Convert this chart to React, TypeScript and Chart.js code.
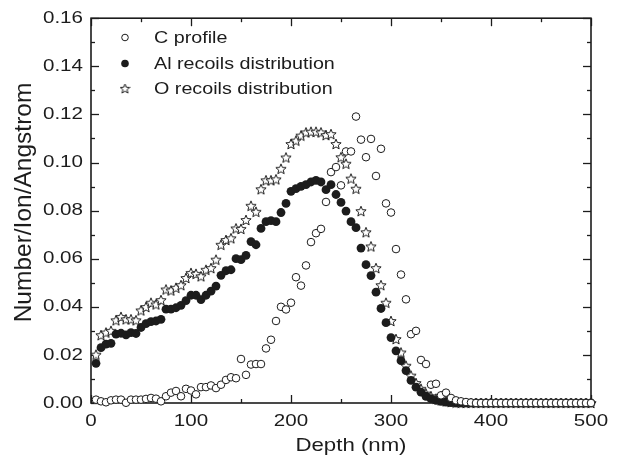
import React, { useEffect, useRef } from "react";
import { Chart, registerables } from "chart.js";

Chart.register(...registerables);

const depth = [
  5, 10, 15, 20, 25, 30, 35, 40, 45, 50,
  55, 60, 65, 70, 75, 80, 85, 90, 95, 100,
  105, 110, 115, 120, 125, 130, 135, 140, 145, 150,
  155, 160, 165, 170, 175, 180, 185, 190, 195, 200,
  205, 210, 215, 220, 225, 230, 235, 240, 245, 250,
  255, 260, 265, 270, 275, 280, 285, 290, 295, 300,
  305, 310, 315, 320, 325, 330, 335, 340, 345, 350,
  355, 360, 365, 370, 375, 380, 385, 390, 395, 400,
  405, 410, 415, 420, 425, 430, 435, 440, 445, 450,
  455, 460, 465, 470, 475, 480, 485, 490, 495, 500,
];

const cProfile = [
  0.0014, 0.0007, 0.0003, 0.0011, 0.0014, 0.0014, 0.0001, 0.0014, 0.0014, 0.0014,
  0.0017, 0.0021, 0.0018, 0.0007, 0.0028, 0.0043, 0.005, 0.0028, 0.0059, 0.0052,
  0.0036, 0.0066, 0.0066, 0.0073, 0.0062, 0.0076, 0.0096, 0.0107, 0.0103, 0.0183,
  0.0117, 0.016, 0.0162, 0.0162, 0.0227, 0.0263, 0.0341, 0.04, 0.0389, 0.0417,
  0.0523, 0.0488, 0.0572, 0.0669, 0.0706, 0.0724, 0.0836, 0.096, 0.0981, 0.0905,
  0.1046, 0.1046, 0.1191, 0.1095, 0.1022, 0.1098, 0.0944, 0.1057, 0.083, 0.0792,
  0.064, 0.0534, 0.0431, 0.0286, 0.03, 0.0179, 0.0162, 0.0076, 0.008, 0.0032,
  0.0043, 0.0021, 0.0011, 0.0007, 0.0004, 0.0002, 0, 0, 0, 0,
  0, 0, 0, 0, 0, 0, 0, 0, 0, 0,
  0, 0, 0, 0, 0, 0, 0, 0, 0, 0,
];

const alRecoils = [
  0.0165, 0.023, 0.0245, 0.0248, 0.0286, 0.029, 0.0283, 0.0293, 0.0289, 0.0314,
  0.033, 0.0338, 0.0341, 0.0348, 0.039, 0.039, 0.0396, 0.0406, 0.0426, 0.0448,
  0.0448, 0.043, 0.0448, 0.0465, 0.0486, 0.0531, 0.055, 0.0554, 0.06, 0.0596,
  0.0614, 0.0671, 0.0658, 0.0726, 0.0754, 0.0758, 0.0754, 0.0792, 0.083, 0.088,
  0.0891, 0.0901, 0.0908, 0.0919, 0.0926, 0.0919, 0.0887, 0.0908, 0.0867, 0.0834,
  0.0798, 0.0754, 0.0729, 0.0644, 0.0575, 0.053, 0.0461, 0.0393, 0.0334, 0.0272,
  0.0217, 0.0176, 0.0135, 0.0094, 0.0066, 0.0045, 0.0028, 0.0018, 0.0011, 0.0007,
  0.0004, 0.0002, 0, 0, 0, 0, 0, 0, 0, 0,
  0, 0, 0, 0, 0, 0, 0, 0, 0, 0,
  0, 0, 0, 0, 0, 0, 0, 0, 0, 0,
];

const oRecoils = [
  0.0201, 0.0282, 0.0293, 0.03, 0.0344, 0.0358, 0.0348, 0.0348, 0.0344, 0.0385,
  0.0399, 0.0417, 0.041, 0.0428, 0.0472, 0.0468, 0.0479, 0.049, 0.052, 0.0541,
  0.0537, 0.0527, 0.0554, 0.0561, 0.0596, 0.0658, 0.0678, 0.0685, 0.0726, 0.0724,
  0.0761, 0.082, 0.0795, 0.0889, 0.0926, 0.0926, 0.093, 0.0974, 0.1021, 0.1077,
  0.1091, 0.1112, 0.1125, 0.1128, 0.1128, 0.1125, 0.1114, 0.1118, 0.1077, 0.1022,
  0.0995, 0.0933, 0.0891, 0.0798, 0.071, 0.0651, 0.0561, 0.049, 0.0417, 0.0341,
  0.0266, 0.021, 0.0155, 0.0114, 0.0083, 0.0059, 0.0039, 0.0028, 0.0018, 0.0011,
  0.0007, 0.0004, 0.0002, 0.0001, 0, 0, 0, 0, 0, 0,
  0, 0, 0, 0, 0, 0, 0, 0, 0, 0,
  0, 0, 0, 0, 0, 0, 0, 0, 0, 0,
];

const seriesNames = ["C profile", "Al recoils distribution", "O recoils distribution"];
const xTitle = "Depth (nm)";
const yTitle = "Number/Ion/Angstrom";
const xTickValues = [0, 100, 200, 300, 400, 500];
const yTickValues = [0, 0.02, 0.04, 0.06, 0.08, 0.1, 0.12, 0.14, 0.16];
const xMinorValues = [50, 150, 250, 350, 450];
const yMinorValues = [0.01, 0.03, 0.05, 0.07, 0.09, 0.11, 0.13, 0.15];

const FONT = "'Liberation Sans', Arial, sans-serif";
const INK = "#1c1c1c";

function makeStar(size: number, outer: number, inner: number, fill: string): HTMLCanvasElement {
  const c = document.createElement("canvas");
  c.width = size;
  c.height = size;
  const g = c.getContext("2d")!;
  const cx = size / 2;
  const cy = size / 2 + 0.5;
  g.beginPath();
  for (let i = 0; i < 10; i++) {
    const r = i % 2 === 0 ? outer : inner;
    const a = -Math.PI / 2 + (i * Math.PI) / 5;
    const px = cx + r * Math.cos(a);
    const py = cy + r * Math.sin(a);
    if (i === 0) g.moveTo(px, py);
    else g.lineTo(px, py);
  }
  g.closePath();
  g.fillStyle = fill;
  g.fill();
  g.lineWidth = 1;
  g.strokeStyle = INK;
  g.lineJoin = "miter";
  g.stroke();
  return c;
}

export default function App() {
  const ref = useRef<HTMLCanvasElement | null>(null);

  useEffect(() => {
    if (!ref.current) return;
    const star = makeStar(12, 5.4, 2.4, "#ffffff");
    const legendStar = makeStar(11, 5, 2.2, "#ffffff");

    // Horizontal widening of text glyphs about their anchor point (reference typography is wide)
    const ctx2d: any = ref.current.getContext("2d");
    const state = { stretch: 1 };
    const origFill = ctx2d.fillText.bind(ctx2d);
    ctx2d.fillText = (text: string, x: number, y: number, maxWidth?: number) => {
      if (state.stretch === 1) {
        if (maxWidth === undefined) origFill(text, x, y);
        else origFill(text, x, y, maxWidth);
        return;
      }
      const m = ctx2d.getTransform();
      const sx = m.a * x + m.c * y + m.e;
      const sy = m.b * x + m.d * y + m.f;
      ctx2d.save();
      const nm = new DOMMatrix().translate(sx, sy).scale(state.stretch, 1).translate(-sx, -sy).multiply(m);
      ctx2d.setTransform(nm);
      origFill(text, x, y);
      ctx2d.restore();
    };

    const axesPlugin = {
      id: "axesPlugin",
      beforeDraw() {
        state.stretch = 1.21;
      },
      beforeDatasetsDraw(chart: any) {
        state.stretch = 1;
        const { ctx, chartArea } = chart;
        const { left, right, top, bottom } = chartArea;
        const xs = chart.scales.x;
        const ys = chart.scales.y;
        ctx.save();
        ctx.strokeStyle = INK;
        ctx.lineWidth = 1.3;
        const tick = (x1: number, y1: number, x2: number, y2: number) => {
          ctx.beginPath();
          ctx.moveTo(x1, y1);
          ctx.lineTo(x2, y2);
          ctx.stroke();
        };
        const MAJ = 8;
        const MIN = 4;
        xTickValues.forEach((v) => {
          const p = Math.round(xs.getPixelForValue(v)) + 0.5;
          tick(p, bottom, p, bottom - MAJ);
          tick(p, top, p, top + MAJ);
        });
        xMinorValues.forEach((v) => {
          const p = Math.round(xs.getPixelForValue(v)) + 0.5;
          tick(p, bottom, p, bottom - MIN);
          tick(p, top, p, top + MIN);
        });
        yTickValues.forEach((v) => {
          const p = Math.round(ys.getPixelForValue(v)) + 0.5;
          tick(left, p, left + MAJ, p);
          tick(right, p, right - MAJ, p);
        });
        yMinorValues.forEach((v) => {
          const p = Math.round(ys.getPixelForValue(v)) + 0.5;
          tick(left, p, left + MIN, p);
          tick(right, p, right - MIN, p);
        });
        ctx.lineWidth = 1.6;
        ctx.strokeRect(left, top, right - left, bottom - top);
        ctx.restore();
      },
      afterDatasetsDraw(chart: any) {
        const { ctx, chartArea } = chart;
        const mx = chartArea.left + 34;
        const tx = chartArea.left + 63;
        const rows = [37.5, 63.5, 89];
        ctx.save();
        // legend markers
        ctx.beginPath();
        ctx.arc(mx, rows[0], 3.3, 0, Math.PI * 2);
        ctx.fillStyle = "#fff";
        ctx.fill();
        ctx.lineWidth = 1;
        ctx.strokeStyle = INK;
        ctx.stroke();
        ctx.beginPath();
        ctx.arc(mx, rows[1], 3.8, 0, Math.PI * 2);
        ctx.fillStyle = INK;
        ctx.fill();
        ctx.drawImage(legendStar, mx - 5.5, rows[2] - 6);
        // legend text
        state.stretch = 1.16;
        ctx.font = `17px ${FONT}`;
        ctx.fillStyle = INK;
        ctx.textBaseline = "middle";
        ctx.textAlign = "left";
        seriesNames.forEach((n, i) => ctx.fillText(n, tx, rows[i] + 0.5));
        // x axis title
        state.stretch = 1.2;
        ctx.font = `18.5px ${FONT}`;
        ctx.textAlign = "center";
        ctx.fillText(xTitle, 351, 445.5);
        // y axis title (not widened)
        state.stretch = 1;
        ctx.font = `24.5px ${FONT}`;
        ctx.translate(24.5, 202.5);
        ctx.rotate(-Math.PI / 2);
        ctx.textAlign = "center";
        ctx.fillText(yTitle, 0, 0);
        ctx.restore();
      },
    };

    const toPts = (ys: number[]) => depth.map((d, i) => ({ x: d, y: ys[i] }));

    const chart = new Chart(ref.current, {
      type: "scatter",
      data: {
        datasets: [
          {
            label: seriesNames[0],
            data: toPts(cProfile),
            pointStyle: "circle",
            pointRadius: 3.8,
            borderWidth: 1,
            borderColor: INK,
            backgroundColor: "#ffffff",
            clip: false,
          } as any,
          {
            label: seriesNames[1],
            data: toPts(alRecoils),
            pointStyle: "circle",
            pointRadius: 4.4,
            borderWidth: 0,
            borderColor: INK,
            backgroundColor: INK,
            clip: false,
          } as any,
          {
            label: seriesNames[2],
            data: toPts(oRecoils),
            pointStyle: star,
            pointRadius: 5,
            clip: false,
          } as any,
        ],
      },
      options: {
        animation: false,
        responsive: false,
        devicePixelRatio: 1,
        layout: { padding: { top: 15, right: 32, left: 0, bottom: 0 } },
        plugins: {
          legend: { display: false },
          tooltip: { enabled: false },
        },
        scales: {
          x: {
            type: "linear",
            min: 0,
            max: 500,
            grid: { display: false, drawTicks: false },
            border: { display: false },
            ticks: {
              stepSize: 100,
              padding: 8,
              color: INK,
              font: { family: FONT, size: 17 },
              maxRotation: 0,
            },
            afterFit: (s: any) => {
              s.height = 59;
            },
          },
          y: {
            type: "linear",
            min: 0,
            max: 0.16,
            grid: { display: false, drawTicks: false },
            border: { display: false },
            ticks: {
              stepSize: 0.02,
              padding: 8,
              color: INK,
              font: { family: FONT, size: 17 },
              callback: (v: any) => Number(v).toFixed(2),
            },
            afterFit: (s: any) => {
              s.width = 91;
            },
          },
        },
      },
      plugins: [axesPlugin],
    });
    return () => {
      chart.destroy();
      ctx2d.fillText = origFill;
    };
  }, []);

  return (
    <div style={{ position: "absolute", left: 0, top: 0, width: 623, height: 462, background: "#fff" }}>
      <canvas ref={ref} width={623} height={462} style={{ display: "block" }} />
    </div>
  );
}
